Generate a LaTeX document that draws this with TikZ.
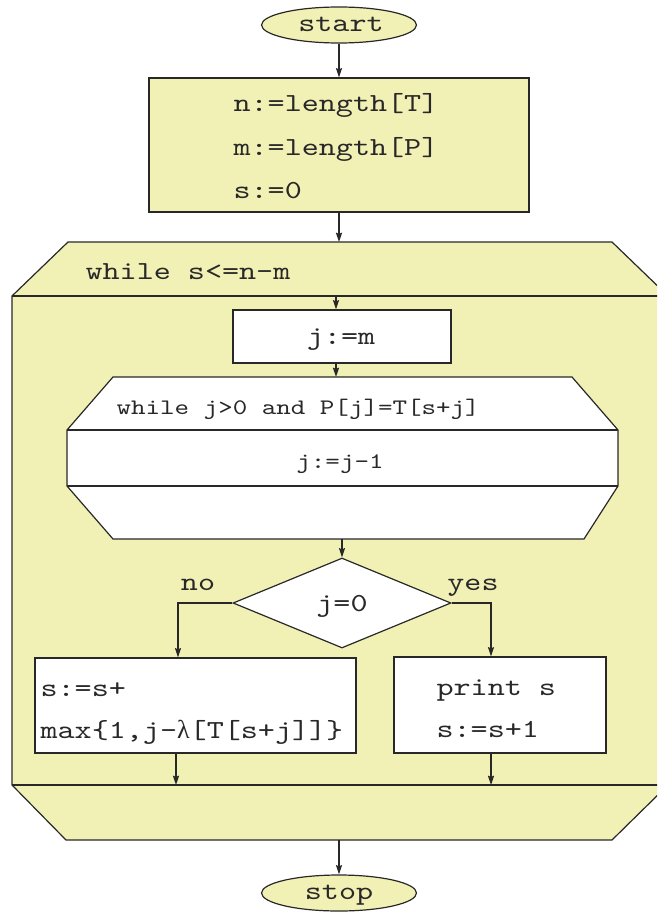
\documentclass[tikz,border=0pt]{standalone}
\usepackage{fontspec}
\usetikzlibrary{arrows.meta,shapes.geometric,fit}
\newfontfamily\flowtt[FakeStretch=1.25]{lmmono10-regular.otf}
\newfontfamily\grk{Liberation Serif}
\definecolor{pad}{RGB}{242,241,181}
\definecolor{ink}{RGB}{40,40,40}
\begin{document}
\begin{tikzpicture}[x=0.75pt,y=-0.75pt,line width=0.9pt,color=ink,
  arr/.style={-{Stealth[length=7pt,width=4.6pt,inset=1pt]}},
  box/.style={draw,inner sep=0pt},
  term/.style={ellipse,draw,fill=pad,inner sep=0pt,minimum width={155*0.75pt},minimum height={36*0.75pt}},
  txt/.style={inner sep=0pt,font=\flowtt\fontsize{19.5pt}{24pt}\selectfont},
  txts/.style={inner sep=0pt,font=\flowtt\fontsize{16.6pt}{20pt}\selectfont}]
\useasboundingbox (0,0) rectangle (657,917);
\clip (0,0) rectangle (657,917);

% terminals
\node[term] (start) at (339,25) {};
\node[txt,anchor=base] at (341,32) {start};
\node[term] (stop) at (339,893) {};
\node[txt,anchor=base] at (339,899) {stop};

% initialisation block
\node[box,fill=pad,fit={(149,78) (529,212)}] (init) {};
\node[txt,anchor=base west] at (233,112) {n:=length[T]};
\node[txt,anchor=base west] at (233,155) {m:=length[P]};
\node[txt,anchor=base west] at (233,198) {s:=0};

% outer loop
\path[draw,fill=pad] (68,242) -- (612,242) -- (668,296) -- (668,785) -- (612,840)
  -- (66,840) -- (12,785) -- (12,296) -- cycle;
\draw (12,296) -- (668,296);
\draw (12,785) -- (668,785);
\node[txt,anchor=base west] at (85,279) {while s<=n-m};

% j:=m
\node[box,fill=white,fit={(233,310) (451,363)}] (jm) {};
\node[txt,anchor=base] at (341,344) {j:=m};

% inner loop
\path[draw,fill=white] (113,377) -- (572,377) -- (618,430) -- (618,486) -- (584,539)
  -- (113,539) -- (67,486) -- (67,430) -- cycle;
\draw (67,430) -- (618,430);
\draw (67,486) -- (618,486);
\node[txts,anchor=base west] at (116,414) {while j>0 and P[j]=T[s+j]};
\node[txts,anchor=base] at (340,468) {j:=j-1};

% test
\node[diamond,draw,fill=white,inner sep=0pt,minimum width={218*0.75pt},minimum height={90*0.75pt}] (test) at (342,603) {};
\node[txt,anchor=base] at (342,611) {j=0};
\node[txt,anchor=base] at (198,590) {no};
\node[txt,anchor=base] at (473,590) {yes};

% branches
\node[box,fill=white,fit={(35,658) (356,753)}] (lbox) {};
\node[txt,anchor=base west] at (40,696) {s:=s+};
\node[txt,anchor=base west] at (40,738) {max\{1,j-{\grk λ}[T[s+j]]\}};
\node[box,fill=white,fit={(394,657) (606,753)}] (rbox) {};
\node[txt,anchor=base west] at (436,695) {print s};
\node[txt,anchor=base west] at (436,737) {s:=s+1};

% connectors
\coordinate (otop) at (339,242);
\coordinate (ohead) at (336,296);
\coordinate (itop) at (336,377);
\coordinate (ibot) at (342,539);
\coordinate (nox) at (178,0);
\coordinate (yesx) at (491,0);
\coordinate (lout) at (176,785);
\coordinate (rout) at (491,785);
\coordinate (obot) at (339,840);
\draw[arr] (start) -- (init);
\draw[arr] (init) -- (otop);
\draw[arr] (ohead) -- (ohead |- jm.north);
\draw[arr] (itop |- jm.south) -- (itop);
\draw[arr] (ibot) -- (test.north);
\draw[arr] (test.west) -| (nox |- lbox.north);
\draw[arr] (test.east) -| (yesx |- rbox.north);
\draw[arr] (lout |- lbox.south) -- (lout);
\draw[arr] (rout |- rbox.south) -- (rout);
\draw[arr] (obot) -- (stop);
\end{tikzpicture}
\end{document}
